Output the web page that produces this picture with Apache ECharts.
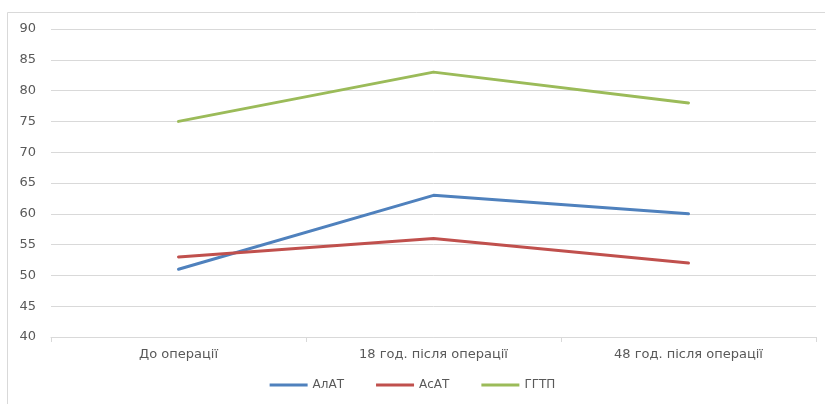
<!DOCTYPE html>
<html>
<head>
<meta charset="utf-8">
<script src="https://cdn.jsdelivr.net/npm/echarts@6/dist/echarts.min.js"></script>
<style>
  html, body { margin: 0; padding: 0; background: #fff; }
  #chart { width: 825px; height: 404px; }
</style>
</head>
<body>
<div id="chart"></div>
<script>
// Liver enzyme levels before and after surgery
const categories = ['До операції', '18 год. після операції', '48 год. після операції'];
const alat = [51, 63, 60];
const asat = [53, 56, 52];
const ggtp = [75, 83, 78];
const seriesNames = ['АлАТ', 'АсАТ', 'ГГТП'];
const yMin = 40, yMax = 90, yStep = 5;

const font = '"DejaVu Sans", "Noto Sans", sans-serif';
const textColor = '#595959';
const colors = ['#4F81BD', '#C0504D', '#9BBB59'];

const chart = echarts.init(document.getElementById('chart'), null, { renderer: 'canvas' });

function lineSeries(name, data, color) {
  return {
    name: name,
    type: 'line',
    data: data,
    symbol: 'none',
    lineStyle: { color: color, width: 3, cap: 'round', join: 'round' },
    itemStyle: { color: color },
    animation: false
  };
}

chart.setOption({
  backgroundColor: '#ffffff',
  animation: false,
  graphic: [{
    type: 'rect',
    shape: { x: 7.5, y: 12.5, width: 830, height: 400 },
    style: { fill: 'none', stroke: '#d9d9d9', lineWidth: 1 },
    silent: true,
    z: -1
  }],
  grid: { left: 51, right: 9, top: 29, bottom: 67, containLabel: false },
  legend: {
    data: seriesNames,
    bottom: 8,
    left: 'center',
    itemWidth: 38,
    itemHeight: 3,
    itemGap: 32,
    icon: 'rect',
    textStyle: { color: textColor, fontFamily: font, fontSize: 12 }
  },
  xAxis: {
    type: 'category',
    data: categories,
    boundaryGap: true,
    axisLine: { show: true, lineStyle: { color: '#d9d9d9', width: 1 } },
    axisTick: { show: true, length: 5, lineStyle: { color: '#d9d9d9' } },
    axisLabel: { color: textColor, fontFamily: font, fontSize: 13, margin: 11 },
    splitLine: { show: false }
  },
  yAxis: {
    type: 'value',
    min: yMin,
    max: yMax,
    interval: yStep,
    axisLine: { show: false },
    axisTick: { show: false },
    axisLabel: { color: textColor, fontFamily: font, fontSize: 13, margin: 15 },
    splitLine: { show: true, lineStyle: { color: '#d9d9d9', width: 1 } }
  },
  series: [
    lineSeries(seriesNames[0], alat, colors[0]),
    lineSeries(seriesNames[1], asat, colors[1]),
    lineSeries(seriesNames[2], ggtp, colors[2])
  ]
});
</script>
</body>
</html>
